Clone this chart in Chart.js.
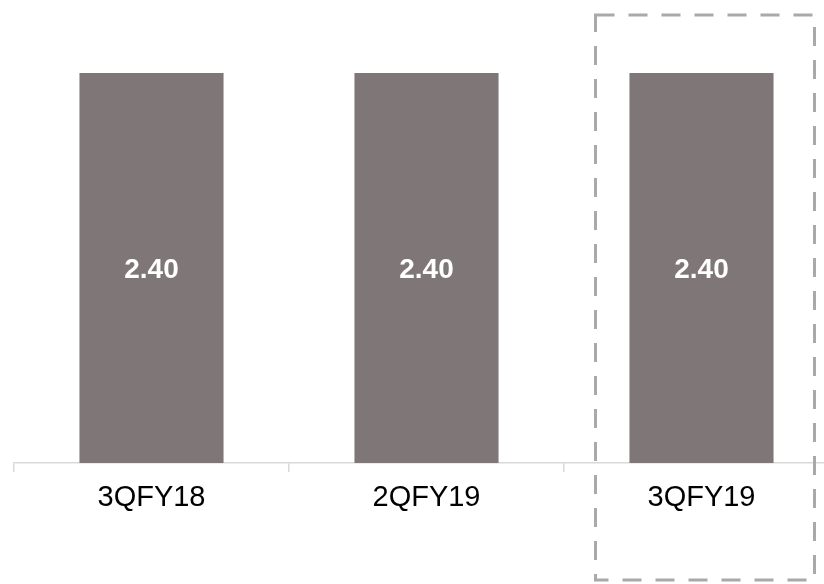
<!DOCTYPE html>
<html>
<head>
<meta charset="utf-8">
<script src="https://cdn.jsdelivr.net/npm/chart.js@4/dist/chart.umd.min.js"></script>
<style>
  body { margin: 0; background: #fff; overflow: hidden; }
  canvas { display: block; }
</style>
</head>
<body>
<canvas id="dpsChart" width="860" height="584"></canvas>
<script>
// Dividend per share by quarter
const quarters = ["3QFY18", "2QFY19", "3QFY19"];
const dps = [2.40, 2.40, 2.40];
const highlightIndex = 2;

const barColor = "#7f7777";
const axisColor = "#d9d9d9";
const boxColor = "#a9a9a9";

// white value labels centred on each bar
const valueLabels = {
    id: "valueLabels",
    afterDatasetsDraw(chart) {
        const ctx = chart.ctx;
        const meta = chart.getDatasetMeta(0);
        ctx.save();
        ctx.fillStyle = "#ffffff";
        ctx.font = "bold 28px 'Liberation Sans', Arial, sans-serif";
        ctx.textAlign = "center";
        ctx.textBaseline = "middle";
        meta.data.forEach((bar, i) => {
            const p = bar.getCenterPoint();
            ctx.fillText(dps[i].toFixed(2), p.x, p.y + 2);
        });
        ctx.restore();
    }
};

// dashed box around the latest quarter
const highlightBox = {
    id: "highlightBox",
    afterDraw(chart) {
        const ctx = chart.ctx;
        const cx = chart.scales.x.getPixelForValue(highlightIndex);
        const left = cx - 106;
        const right = cx + 113;
        const top = 15;
        const bottom = 580;
        ctx.save();
        ctx.strokeStyle = boxColor;
        ctx.lineWidth = 3;
        ctx.setLineDash([19, 14]);
        ctx.strokeRect(left, top, right - left, bottom - top);
        ctx.restore();
    }
};

new Chart(document.getElementById("dpsChart"), {
    type: "bar",
    data: {
        labels: quarters,
        datasets: [{
            data: dps,
            backgroundColor: barColor,
            categoryPercentage: 1,
            barPercentage: 0.524
        }]
    },
    options: {
        responsive: false,
        animation: false,
        layout: { padding: { left: 14, right: 21, top: 73, bottom: 0 } },
        plugins: {
            legend: { display: false },
            tooltip: { enabled: false }
        },
        scales: {
            y: {
                display: false,
                min: 0,
                max: 2.4
            },
            x: {
                grid: {
                    drawOnChartArea: false,
                    color: axisColor,
                    tickLength: 9,
                    lineWidth: 1.5
                },
                border: { color: axisColor, width: 1.5 },
                ticks: {
                    color: "#000000",
                    padding: 9,
                    font: { family: "'Liberation Sans', Arial, sans-serif", size: 29 }
                },
                afterFit(scale) { scale.height = 121; }
            }
        }
    },
    plugins: [valueLabels, highlightBox]
});
</script>
</body>
</html>
